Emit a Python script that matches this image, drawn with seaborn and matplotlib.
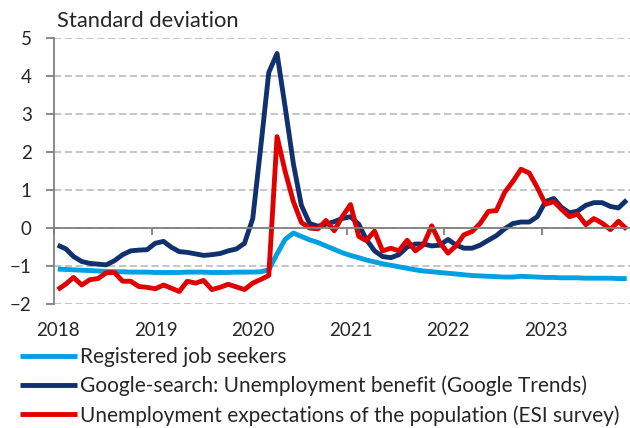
import pandas as pd
import matplotlib
matplotlib.use("Agg")
import matplotlib.pyplot as plt
import matplotlib.dates as mdates
import seaborn as sns

# monthly series, Jan 2018 - Nov 2023 (standard deviations)
seekers = [-1.08, -1.09, -1.10, -1.11, -1.12, -1.13, -1.14, -1.15, -1.15, -1.16, -1.16, -1.16,
           -1.17, -1.17, -1.17, -1.17, -1.16, -1.16, -1.16, -1.17, -1.17, -1.17, -1.16, -1.16,
           -1.16, -1.15, -1.10, -0.68, -0.30, -0.13, -0.22, -0.31, -0.38, -0.47, -0.56, -0.65,
           -0.72, -0.78, -0.84, -0.89, -0.94, -0.98, -1.02, -1.06, -1.10, -1.13, -1.15, -1.17,
           -1.19, -1.21, -1.23, -1.25, -1.26, -1.27, -1.28, -1.29, -1.29, -1.27, -1.28, -1.29,
           -1.30, -1.30, -1.31, -1.31, -1.31, -1.32, -1.32, -1.32, -1.32, -1.33, -1.33]
google = [-0.45, -0.55, -0.75, -0.88, -0.93, -0.95, -0.97, -0.86, -0.70, -0.60, -0.58, -0.57,
          -0.40, -0.35, -0.50, -0.62, -0.64, -0.68, -0.72, -0.70, -0.67, -0.60, -0.55, -0.40,
          0.25, 2.20, 4.10, 4.60, 3.20, 1.70, 0.60, 0.12, 0.05, 0.10, 0.17, 0.25,
          0.30, 0.10, -0.30, -0.60, -0.75, -0.78, -0.70, -0.50, -0.42, -0.42, -0.47, -0.45,
          -0.30, -0.45, -0.53, -0.53, -0.45, -0.32, -0.20, -0.02, 0.12, 0.16, 0.16, 0.30,
          0.70, 0.78, 0.55, 0.40, 0.45, 0.60, 0.67, 0.67, 0.57, 0.53, 0.74]
expect = [-1.62, -1.47, -1.30, -1.50, -1.36, -1.33, -1.18, -1.17, -1.40, -1.40, -1.54, -1.56,
          -1.60, -1.50, -1.58, -1.67, -1.40, -1.45, -1.38, -1.62, -1.56, -1.48, -1.55, -1.62,
          -1.45, -1.35, -1.25, 2.41, 1.50, 0.70, 0.15, 0.00, -0.02, 0.20, -0.07, 0.30,
          0.62, -0.22, -0.33, -0.08, -0.60, -0.53, -0.60, -0.32, -0.60, -0.44, 0.06, -0.38,
          -0.66, -0.46, -0.18, -0.09, 0.12, 0.44, 0.46, 0.94, 1.23, 1.55, 1.45, 1.07,
          0.63, 0.70, 0.50, 0.30, 0.37, 0.09, 0.25, 0.13, -0.04, 0.18, -0.03]

labels = ["Registered job seekers",
          "Google-search: Unemployment benefit (Google Trends)",
          "Unemployment expectations of the population (ESI survey)"]
colors = ["#00A0E1", "#10306E", "#E00000"]
years = ["2018", "2019", "2020", "2021", "2022", "2023"]
yticks = [-2, -1, 0, 1, 2, 3, 4, 5]

dates = pd.date_range("2018-01-01", periods=len(seekers), freq="MS") + pd.Timedelta(days=14)
df = pd.concat([
    pd.DataFrame({"date": dates, "value": vals, "series": name})
    for name, vals in zip(labels, [seekers, google, expect])
])

sns.set_theme(style="white")
plt.rcParams["font.family"] = ["Lato", "DejaVu Sans"]
FS = 13.5      # tick labels
FS_TXT = 15.0  # legend / unit label
GRAY = "#808080"

fig = plt.figure(figsize=(6.3, 4.28), dpi=100)
ax = fig.add_axes([54 / 630, 124 / 428, 577 / 630, 265.7 / 428])

sns.lineplot(data=df, x="date", y="value", hue="series", hue_order=labels,
             palette=colors, linewidth=3.5, ax=ax, legend=False)
for ln in ax.get_lines():
    ln.set_solid_joinstyle("round")
    ln.set_solid_capstyle("butt")

ax.set_ylim(-2, 5)
ax.set_xlim(pd.Timestamp("2018-01-01"), pd.Timestamp("2023-12-01"))
ax.set_yticks(yticks)
ax.set_xlabel("")
ax.set_ylabel("")

ax.yaxis.grid(True, linestyle=(0, (4, 2)), color="#C0C0C0", linewidth=1.3)
ax.set_axisbelow(True)

for side in ["top", "right"]:
    ax.spines[side].set_visible(False)
ax.spines["left"].set_color(GRAY)
ax.spines["left"].set_linewidth(1.3)
ax.spines["bottom"].set_position(("data", 0))
ax.spines["bottom"].set_color(GRAY)
ax.spines["bottom"].set_linewidth(1.3)

ax.xaxis.set_major_locator(mdates.YearLocator())
ax.tick_params(axis="x", direction="out", length=5, width=1.3, color=GRAY,
               labelbottom=False, bottom=True)
ax.tick_params(axis="y", direction="out", length=6, width=1.3, color=GRAY,
               labelsize=FS, pad=10, left=True)

# year labels sit below the plot, under each January tick
for y in years:
    ax.text(pd.Timestamp(f"{y}-01-16"), -0.1, y, transform=ax.get_xaxis_transform(),
            ha="center", va="center", fontsize=FS, clip_on=False)

fig.text(57 / 630, 1 - 21 / 428, "Standard deviation", fontsize=FS_TXT + 0.8,
         ha="left", va="center")

fig.legend(handles=ax.get_lines()[:3], labels=labels, loc="upper left",
           bbox_to_anchor=(20 / 630, 81 / 428), frameon=False, fontsize=FS_TXT,
           handlelength=2.75, handletextpad=0.15, labelspacing=0.42, borderpad=0,
           borderaxespad=0)

fig.savefig("out.png", dpi=100)
